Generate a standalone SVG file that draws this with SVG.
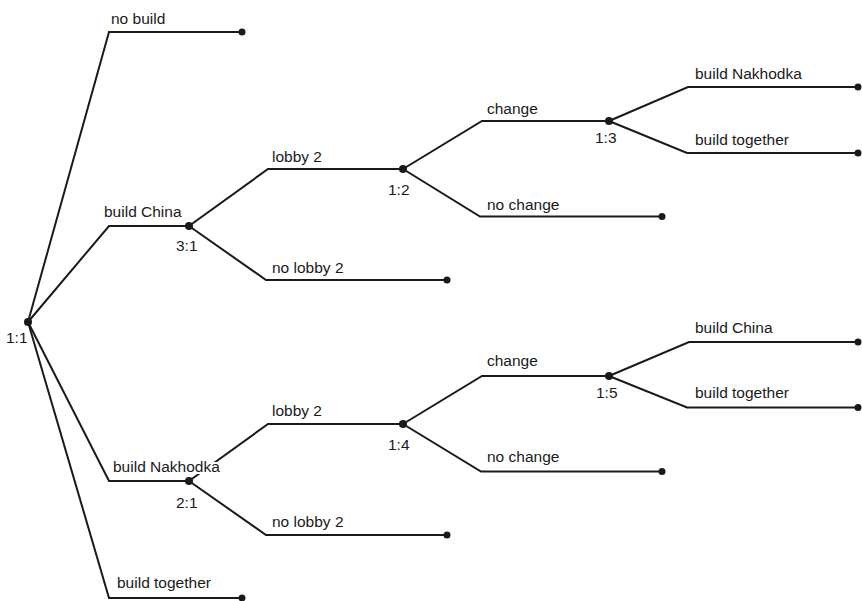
<svg xmlns="http://www.w3.org/2000/svg" width="862" height="601" viewBox="0 0 862 601">
<style>
  .e { fill: none; stroke: #1a1a1a; stroke-width: 2; stroke-linejoin: miter; stroke-linecap: butt; }
  .d { fill: #1a1a1a; }
  .t { font-family: "Liberation Sans", Arial, sans-serif; font-size: 15.5px; fill: #1a1a1a; }
  .h { stroke: #ffffff; stroke-width: 4; paint-order: stroke; }
</style>
<rect width="862" height="601" fill="#ffffff"/>
<g id="connectors">
  <path class="e" d="M28,322 L109,32 L242,32"/>
  <path class="e" d="M28,322 L109,226 L189,226"/>
  <path class="e" d="M28,322 L109,481 L189,481"/>
  <path class="e" d="M28,322 L109,598 L242,598"/>
  <path class="e" d="M189,226 L268,169 L403,169"/>
  <path class="e" d="M189,226 L266,280 L447,280"/>
  <path class="e" d="M403,169 L482,121 L609,121"/>
  <path class="e" d="M403,169 L480,216.5 L662,216.5"/>
  <path class="e" d="M609,121 L688,87 L858,87"/>
  <path class="e" d="M609,121 L687,153 L858,153"/>
  <path class="e" d="M189,481 L268,424 L403,424"/>
  <path class="e" d="M189,481 L266,535 L447,535"/>
  <path class="e" d="M403,424 L482,376 L609,376"/>
  <path class="e" d="M403,424 L481,471.5 L662,471.5"/>
  <path class="e" d="M609,376 L689,342 L858,342"/>
  <path class="e" d="M609,376 L687,407.5 L858,407.5"/>
</g>
<g id="n11"><circle class="d" cx="28" cy="322" r="4"/><text class="t" x="6" y="343">1:1</text></g>
<g id="nobuild"><circle class="d" cx="242" cy="32" r="3.5"/><text class="t" x="111" y="24">no build</text></g>
<g id="n31"><circle class="d" cx="189" cy="226" r="4"/><text class="t" x="104" y="217">build China</text><text class="t" x="176" y="251">3:1</text></g>
<g id="n21"><text class="t h" x="113" y="472">build Nakhodka</text><circle class="d" cx="189" cy="481" r="4"/><text class="t" x="176" y="508">2:1</text></g>
<g id="buildtogether"><circle class="d" cx="242" cy="598" r="3.5"/><text class="t" x="117" y="588">build together</text></g>
<g id="n12"><circle class="d" cx="403" cy="169" r="4"/><text class="t" x="272" y="162">lobby 2</text><text class="t" x="388" y="195">1:2</text></g>
<g id="nolobby1"><circle class="d" cx="447" cy="280" r="3.5"/><text class="t" x="272" y="273">no lobby 2</text></g>
<g id="n13"><circle class="d" cx="609" cy="121" r="4"/><text class="t" x="487" y="114">change</text><text class="t" x="595" y="143">1:3</text></g>
<g id="nochange1"><circle class="d" cx="662" cy="216.5" r="3.5"/><text class="t" x="487" y="210">no change</text></g>
<g id="leaf1"><circle class="d" cx="858" cy="87" r="3.5"/><text class="t" x="695" y="79">build Nakhodka</text></g>
<g id="leaf2"><circle class="d" cx="858" cy="153" r="3.5"/><text class="t" x="695" y="145">build together</text></g>
<g id="n14"><circle class="d" cx="403" cy="424" r="4"/><text class="t" x="272" y="416">lobby 2</text><text class="t" x="388" y="450">1:4</text></g>
<g id="nolobby2"><circle class="d" cx="447" cy="535" r="3.5"/><text class="t" x="272" y="527">no lobby 2</text></g>
<g id="n15"><circle class="d" cx="609" cy="376" r="4"/><text class="t" x="487" y="366">change</text><text class="t" x="596" y="398">1:5</text></g>
<g id="nochange2"><circle class="d" cx="662" cy="471.5" r="3.5"/><text class="t" x="487" y="462">no change</text></g>
<g id="leaf3"><circle class="d" cx="858" cy="342" r="3.5"/><text class="t" x="695" y="333">build China</text></g>
<g id="leaf4"><circle class="d" cx="858" cy="407.5" r="3.5"/><text class="t" x="695" y="398">build together</text></g>
</svg>
